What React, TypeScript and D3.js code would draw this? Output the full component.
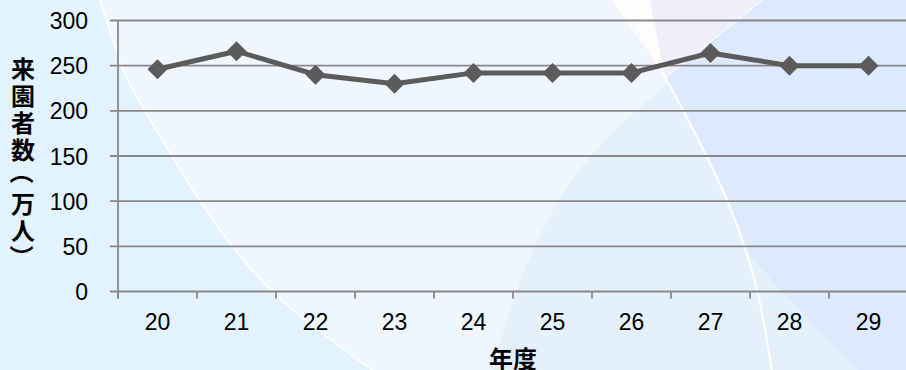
import React from "react";
import * as d3 from "d3";

const categories = ["20", "21", "22", "23", "24", "25", "26", "27", "28", "29"];
const visitors = [246, 266, 240, 230, 242, 242, 242, 264, 250, 250];
const yTicks = [0, 50, 100, 150, 200, 250, 300];
const yTitleChars = ["来", "園", "者", "数", "（", "万", "人", "）"];
const xTitle = "年度";

const W = 906;
const H = 370;
const FONT = "'Noto Sans CJK JP', 'Noto Sans', sans-serif";
const NUM_FONT = "'Liberation Sans', Arial, sans-serif";

export default function App() {
  const x = d3.scaleBand<string>().domain(categories).range([118, 908]).padding(0);
  const y = d3.scaleLinear().domain([0, 300]).range([291.5, 20.5]);
  const cx = (c: string) => (x(c) as number) + x.bandwidth() / 2;

  const lineGen = d3
    .line<number>()
    .x((_, i) => cx(categories[i]))
    .y((d) => y(d));

  const curve = d3.line<[number, number]>().curve(d3.curveNatural);

  // decorative background curves
  const curveA: [number, number][] = [[100, 0], [122, 67], [145, 111], [200, 201], [273, 292], [375, 372]];
  const curveB: [number, number][] = [[613, 0], [653, 57], [683, 110], [727, 200], [757, 290], [772, 372]];
  const curveBTop: [number, number][] = [[613, 0], [637, 30], [665, 78]];
  const curveC: [number, number][] = [[493, 372], [517, 290], [567, 187], [637, 110], [703, 53], [765, -2]];
  const curveE: [number, number][] = [[743, 247], [790, 300], [860, 372]];

  const pathA = curve(curveA) as string;
  const pathB = curve(curveB) as string;
  const pathC = curve(curveC) as string;

  const regionM = pathA + " L906,372 L906,0 Z";
  const regionC = pathC + " L906,-2 L906,372 Z";
  const regionL = "M650,0 L665,78 L765,-2 Z";
  const regionW = (curve(curveBTop) as string) + " L650,0 Z";
  const regionR =
    "M665,78 L765,-2 L906,-2 L906,372 L860,372 " +
    (curve(curveE.slice().reverse() as [number, number][]) as string).replace(/^M/, "L") +
    " L727,200 L707,157 L683,110 Z";

  const gridColor = "#898989";

  return (
    <svg
      width={W}
      height={H}
      style={{ position: "absolute", left: 0, top: 0, display: "block" }}
      fontFamily={FONT}
    >
      {/* background */}
      <rect x={0} y={0} width={W} height={H} fill="#e2f2fe" />
      <path d={regionM} fill="#eff6fe" />
      <path d={regionC} fill="#e4f1fd" />
      <path d={regionR} fill="#dde9fc" />
      <path d={regionL} fill="#efeffc" />
      <path d={regionW} fill="#fbfdff" />
      <path d={pathA} fill="none" stroke="#ffffff" strokeWidth={1.5} />
      <path d={pathB} fill="none" stroke="#ffffff" strokeWidth={2} />
      <line x1={665} y1={78} x2={765} y2={-2} stroke="#f6f8ff" strokeWidth={1.5} />

      {/* gridlines and y ticks */}
      {yTicks.map((t) => (
        <line
          key={"g" + t}
          x1={110}
          x2={W}
          y1={y(t)}
          y2={y(t)}
          stroke={gridColor}
          strokeWidth={1.8}
        />
      ))}
      {/* y axis */}
      <line x1={118} x2={118} y1={y(300)} y2={y(0) + 7} stroke={gridColor} strokeWidth={1.8} />
      {/* x ticks */}
      {categories.map((c) => (
        <line
          key={"xt" + c}
          x1={x(c) as number}
          x2={x(c) as number}
          y1={y(0)}
          y2={y(0) + 7}
          stroke={gridColor}
          strokeWidth={1.8}
        />
      ))}

      {/* y tick labels */}
      {yTicks.map((t) => (
        <text
          key={"yl" + t}
          x={88}
          y={y(t) + 8.5}
          textAnchor="end"
          fontSize={23}
          fontFamily={NUM_FONT}
          fill="#000"
        >
          {t}
        </text>
      ))}

      {/* x tick labels */}
      {categories.map((c) => (
        <text
          key={"xl" + c}
          x={cx(c)}
          y={330}
          textAnchor="middle"
          fontSize={23}
          fontFamily={NUM_FONT}
          fill="#000"
        >
          {c}
        </text>
      ))}

      {/* axis titles */}
      {yTitleChars.map((ch, i) => {
        const cy = 67 + i * 27;
        const isParen = ch === "（" || ch === "）";
        if (isParen) {
          return (
            <text
              key={"yt" + i}
              x={0}
              y={0}
              transform={`translate(23,${cy + (ch === "（" ? -3 : 1)}) rotate(90)`}
              textAnchor="middle"
              dominantBaseline="central"
              fontSize={24}
              fontWeight="bold"
              fill="#000"
            >
              {ch}
            </text>
          );
        }
        return (
          <text
            key={"yt" + i}
            x={23}
            y={cy}
            textAnchor="middle"
            dominantBaseline="central"
            fontSize={24}
            fontWeight="bold"
            fill="#000"
          >
            {ch}
          </text>
        );
      })}
      <text x={513} y={368} textAnchor="middle" fontSize={24} fontWeight="bold" fill="#000">
        {xTitle}
      </text>

      {/* series line */}
      <path d={lineGen(visitors) as string} fill="none" stroke="#5b5b5b" strokeWidth={5} strokeLinejoin="round" />
      {visitors.map((v, i) => {
        const px = cx(categories[i]);
        const py = y(v);
        const r = 10;
        return (
          <path
            key={"m" + i}
            d={`M${px},${py - r} L${px + r},${py} L${px},${py + r} L${px - r},${py} Z`}
            fill="#5b5b5b"
          />
        );
      })}
    </svg>
  );
}
